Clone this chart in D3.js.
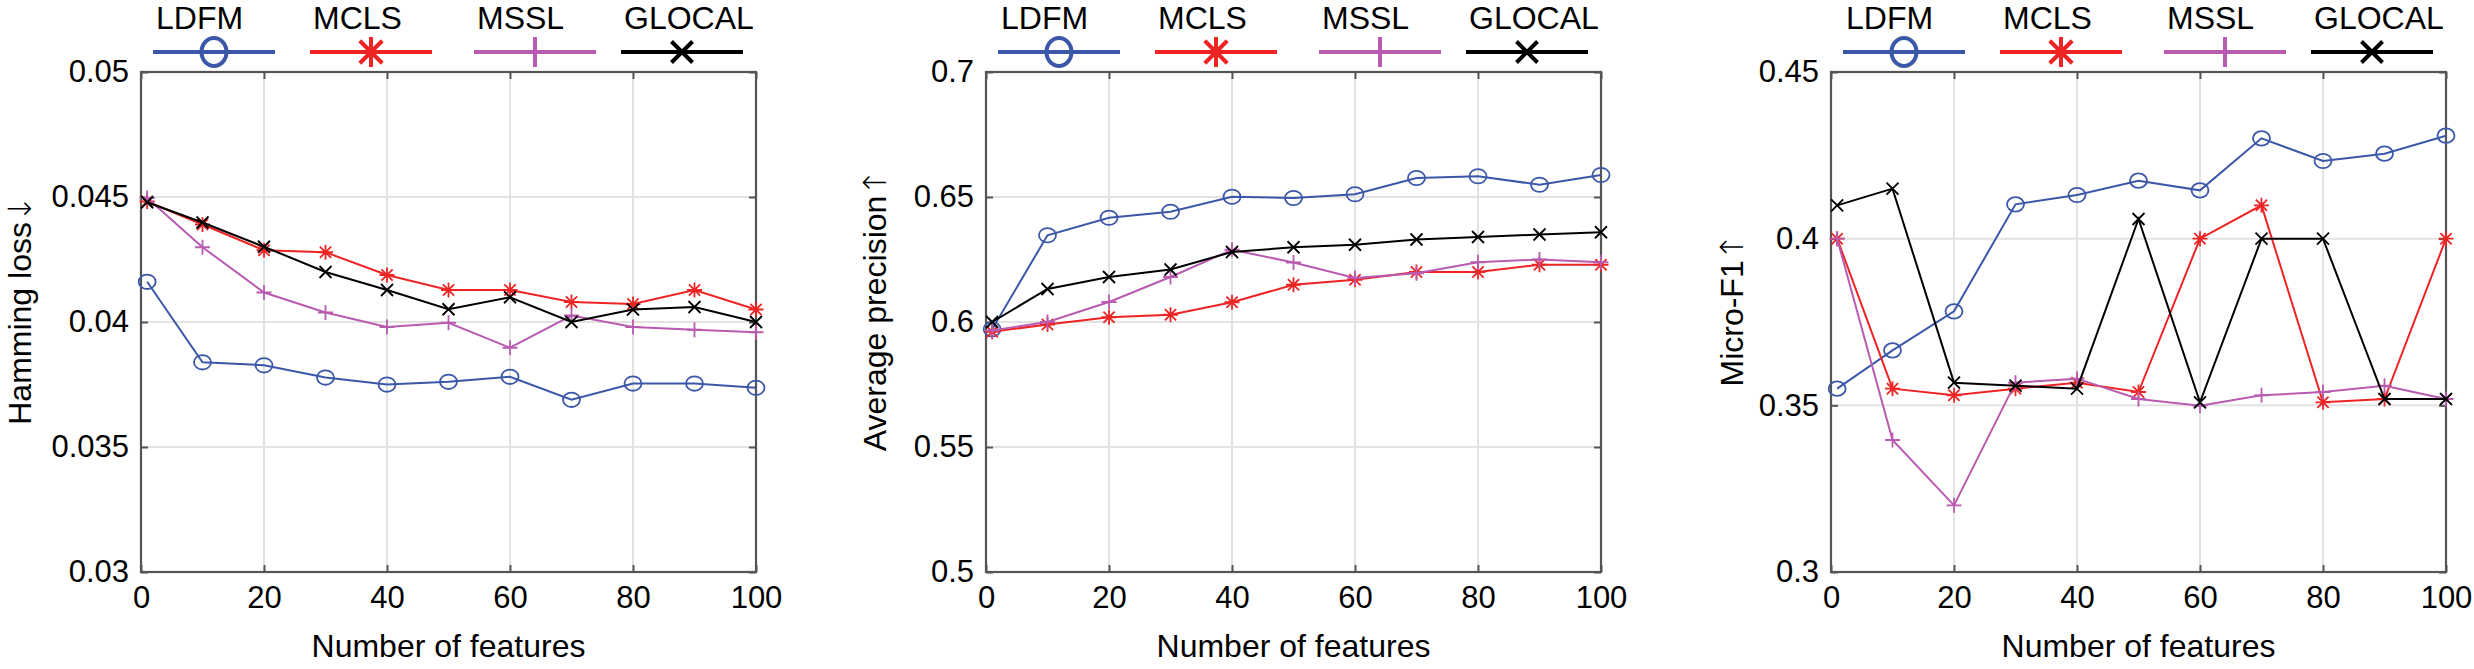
<!DOCTYPE html>
<html>
<head>
<meta charset="utf-8">
<script src="https://cdn.jsdelivr.net/npm/d3@7"></script>
<style>
  html, body { margin: 0; padding: 0; background: #fff; }
  svg { display: block; }
  text { font-family: "Liberation Sans", Arial, Helvetica, sans-serif; fill: #000; }
</style>
</head>
<body>
<svg id="chart" width="2474" height="669"></svg>
<script>
// ---------------- data ----------------
const features = [1, 10, 20, 30, 40, 50, 60, 70, 80, 90, 100];
const methods = ["LDFM", "MCLS", "MSSL", "GLOCAL"];
const xTicks = [0, 20, 40, 60, 80, 100];

// Panel 1: Hamming loss (lower is better)
const hammingLDFM   = [0.04161, 0.03839, 0.03827, 0.03778, 0.03750, 0.03761, 0.03781, 0.03689, 0.03754, 0.03754, 0.03737];
const hammingMCLS   = [0.04482, 0.04390, 0.04287, 0.04279, 0.04188, 0.04128, 0.04128, 0.04080, 0.04072, 0.04128, 0.04050];
const hammingMSSL   = [0.04496, 0.04299, 0.04118, 0.04038, 0.03980, 0.03997, 0.03897, 0.04026, 0.03980, 0.03969, 0.03959];
const hammingGLOCAL = [0.04479, 0.04398, 0.04301, 0.04200, 0.04128, 0.04051, 0.04099, 0.04000, 0.04050, 0.04060, 0.04000];
const hammingTicks  = [0.03, 0.035, 0.04, 0.045, 0.05];
const hammingTickLabels = ["0.03", "0.035", "0.04", "0.045", "0.05"];

// Panel 2: Average precision (higher is better)
const apLDFM   = [0.5971, 0.6347, 0.6417, 0.6441, 0.6501, 0.6496, 0.6511, 0.6576, 0.6583, 0.6549, 0.6588];
const apMCLS   = [0.5961, 0.5990, 0.6019, 0.6029, 0.6079, 0.6149, 0.6169, 0.6200, 0.6200, 0.6229, 0.6229];
const apMSSL   = [0.5966, 0.6000, 0.6080, 0.6180, 0.6289, 0.6238, 0.6176, 0.6195, 0.6239, 0.6250, 0.6239];
const apGLOCAL = [0.6000, 0.6132, 0.6180, 0.6210, 0.6280, 0.6299, 0.6309, 0.6330, 0.6340, 0.6350, 0.6359];
const apTicks  = [0.5, 0.55, 0.6, 0.65, 0.7];
const apTickLabels = ["0.5", "0.55", "0.6", "0.65", "0.7"];

// Panel 3: Micro-F1 (higher is better)
const f1LDFM   = [0.3550, 0.3665, 0.3782, 0.4103, 0.4131, 0.4174, 0.4145, 0.4301, 0.4233, 0.4255, 0.4309];
const f1MCLS   = [0.4000, 0.3550, 0.3530, 0.3550, 0.3568, 0.3540, 0.4000, 0.4100, 0.3509, 0.3519, 0.4000];
const f1MSSL   = [0.4000, 0.3396, 0.3200, 0.3568, 0.3580, 0.3519, 0.3499, 0.3530, 0.3540, 0.3559, 0.3519];
const f1GLOCAL = [0.4100, 0.4150, 0.3568, 0.3559, 0.3550, 0.4059, 0.3509, 0.4000, 0.4000, 0.3519, 0.3519];
const f1Ticks  = [0.3, 0.35, 0.4, 0.45];
const f1TickLabels = ["0.3", "0.35", "0.4", "0.45"];

const yTitles = ["Hamming loss", "Average precision", "Micro-F1"];
const yArrows = ["\u2193", "\u2191", "\u2191"];
const xTitle = "Number of features";

// ---------------- styles ----------------
const colors = { LDFM: "#3b57a8", MCLS: "#ee2424", MSSL: "#b95bb0", GLOCAL: "#000000" };
const markerKinds = { LDFM: "circle", MCLS: "star", MSSL: "plus", GLOCAL: "cross" };

const panels = [
  { series: [hammingLDFM, hammingMCLS, hammingMSSL, hammingGLOCAL], domain: [0.03, 0.05], ticks: hammingTicks, labels: hammingTickLabels, title: yTitles[0], arrow: yArrows[0], left: 141, titleDx: -121 },
  { series: [apLDFM, apMCLS, apMSSL, apGLOCAL], domain: [0.5, 0.7], ticks: apTicks, labels: apTickLabels, title: yTitles[1], arrow: yArrows[1], left: 986, titleDx: -111 },
  { series: [f1LDFM, f1MCLS, f1MSSL, f1GLOCAL], domain: [0.3, 0.45], ticks: f1Ticks, labels: f1TickLabels, title: yTitles[2], arrow: yArrows[2], left: 1831, titleDx: -99 }
];

const PW = 615, plotTop = 72, plotBottom = 572;
const svg = d3.select("#chart");
const axisColor = "#555555";
const gridColor = "#e3e3e3";

function drawMarker(g, kind, cx, cy, s, color, sw) {
  if (kind === "circle") {
    g.append("ellipse").attr("cx", cx).attr("cy", cy).attr("rx", s * 1.0).attr("ry", s * 0.85)
      .attr("fill", "none").attr("stroke", color).attr("stroke-width", sw);
  } else if (kind === "plus") {
    g.append("path").attr("d", `M${cx - s},${cy}H${cx + s}M${cx},${cy - s}V${cy + s}`)
      .attr("stroke", color).attr("stroke-width", sw).attr("fill", "none");
  } else if (kind === "cross") {
    const d = s * 0.75;
    g.append("path").attr("d", `M${cx - d},${cy - d}L${cx + d},${cy + d}M${cx - d},${cy + d}L${cx + d},${cy - d}`)
      .attr("stroke", color).attr("stroke-width", sw).attr("fill", "none");
  } else if (kind === "star") {
    const d = s * 0.75;
    g.append("path").attr("d", `M${cx - s},${cy}H${cx + s}M${cx},${cy - s}V${cy + s}M${cx - d},${cy - d}L${cx + d},${cy + d}M${cx - d},${cy + d}L${cx + d},${cy - d}`)
      .attr("stroke", color).attr("stroke-width", sw).attr("fill", "none");
  }
}

panels.forEach(p => {
  const L = p.left;
  const x = d3.scaleLinear().domain([0, 100]).range([L, L + PW]);
  const y = d3.scaleLinear().domain(p.domain).range([plotBottom, plotTop]);
  const g = svg.append("g");

  // grid
  g.selectAll(".vg").data(xTicks.slice(1, -1)).enter().append("line")
    .attr("x1", d => x(d)).attr("x2", d => x(d)).attr("y1", plotTop).attr("y2", plotBottom)
    .attr("stroke", gridColor).attr("stroke-width", 2);
  g.selectAll(".hg").data(p.ticks.slice(1, -1)).enter().append("line")
    .attr("x1", L).attr("x2", L + PW).attr("y1", d => y(d)).attr("y2", d => y(d))
    .attr("stroke", gridColor).attr("stroke-width", 2);

  // axes via d3 axis (ticks inward)
  const xAxis = d3.axisBottom(x).tickValues(xTicks).tickSize(-7).tickPadding(14).tickFormat(d3.format("d"));
  const yAxis = d3.axisLeft(y).tickValues(p.ticks).tickSize(-7).tickPadding(12).tickFormat((d, i) => p.labels[i]);
  const xa = g.append("g").attr("transform", `translate(0,${plotBottom})`).call(xAxis);
  const ya = g.append("g").attr("transform", `translate(${L},0)`).call(yAxis);
  const xt = g.append("g").attr("transform", `translate(0,${plotTop})`).call(d3.axisTop(x).tickValues(xTicks).tickSize(-7).tickFormat(""));
  const yr = g.append("g").attr("transform", `translate(${L + PW},0)`).call(d3.axisRight(y).tickValues(p.ticks).tickSize(-7).tickFormat(""));
  [xa, ya, xt, yr].forEach(a => {
    a.select(".domain").remove();
    a.selectAll(".tick line").attr("stroke", axisColor).attr("stroke-width", 2);
    a.selectAll("text").attr("font-size", 31).attr("font-family", "Liberation Sans, Arial, sans-serif").attr("fill", "#000");
  });
  xa.selectAll("text").attr("dy", "0.71em");
  // box
  g.append("rect").attr("x", L).attr("y", plotTop).attr("width", PW).attr("height", plotBottom - plotTop)
    .attr("fill", "none").attr("stroke", axisColor).attr("stroke-width", 2.2);

  // series lines + markers
  p.series.forEach((vals, si) => {
    const m = methods[si];
    const line = d3.line().x((d, i) => x(features[i])).y(d => y(d));
    g.append("path").datum(vals).attr("d", line).attr("fill", "none")
      .attr("stroke", colors[m]).attr("stroke-width", 2);
    vals.forEach((v, i) => {
      const s = markerKinds[m] === "circle" ? 8.5 : (markerKinds[m] === "cross" ? 8 : 7.5);
      drawMarker(g, markerKinds[m], x(features[i]), y(v), s, colors[m], 1.8);
    });
  });

  // legend
  const legendStarts = [12, 169, 333, 480];
  const legendLen = 122;
  methods.forEach((m, i) => {
    const lx = L + legendStarts[i];
    g.append("text").attr("x", lx + 3).attr("y", 29).attr("font-size", 32).text(m);
    g.append("line").attr("x1", lx).attr("x2", lx + legendLen).attr("y1", 52).attr("y2", 52)
      .attr("stroke", colors[m]).attr("stroke-width", 4);
    const cx = lx + legendLen / 2;
    const k = markerKinds[m];
    if (k === "circle") {
      g.append("ellipse").attr("cx", cx).attr("cy", 52).attr("rx", 12.5).attr("ry", 14)
        .attr("fill", "none").attr("stroke", colors[m]).attr("stroke-width", 4);
    } else {
      drawMarker(g, k, cx, 52, k === "cross" ? 14 : 15, colors[m], 4);
    }
  });

  // axis titles
  g.append("text").attr("x", L + PW / 2).attr("y", 646).attr("dy", "0.35em")
    .attr("text-anchor", "middle").attr("font-size", 32).text(xTitle);
  const tx = L + p.titleDx, ty = 310;
  const yt = g.append("text").attr("transform", `translate(${tx},${ty}) rotate(-90)`).attr("dy", "0.35em")
    .attr("text-anchor", "middle").attr("font-size", 32);
  yt.append("tspan").text(p.title);
  yt.append("tspan").attr("font-family", "DejaVu Sans, sans-serif").attr("font-weight", 200).text(p.arrow);
});
</script>
</body>
</html>
